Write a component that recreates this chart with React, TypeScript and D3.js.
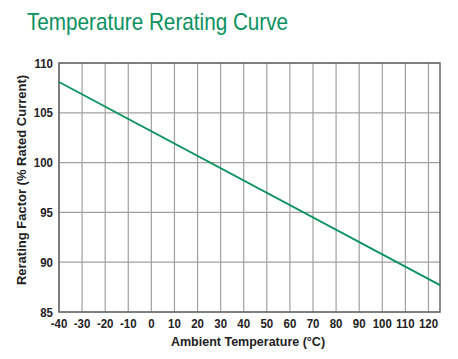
import React from "react";
import * as d3 from "d3";

const xTicks = [-40, -30, -20, -10, 0, 10, 20, 30, 40, 50, 60, 70, 80, 90, 100, 110, 120];
const yTicks = [85, 90, 95, 100, 105, 110];
const curveTemp = [-40, 125];
const curveFactor = [108.1, 87.7];
const title = "Temperature Rerating Curve";
const xTitle = "Ambient Temperature (°C)";
const yTitle = "Rerating Factor (% Rated Current)";

const W = 458, H = 359;
const M = { left: 59, right: 18, top: 63, bottom: 47 };
const green = "#0a9160";
const sans = "'Liberation Sans', Arial, sans-serif";

export default function App() {
  const x = d3.scaleLinear().domain([-40, 125]).range([M.left, W - M.right]);
  const y = d3.scaleLinear().domain([85, 110]).range([H - M.bottom, M.top]);
  const pts = curveTemp.map((t, i) => [t, curveFactor[i]] as [number, number]);
  const line = d3.line<[number, number]>().x(d => x(d[0])).y(d => y(d[1]));
  return (
    <svg width={W} height={H} style={{ position: "absolute", left: 0, top: 0, background: "#fff" }}>
      <text transform="translate(27,30) scale(0.9,1)" fill={green} fontFamily={sans} fontSize={23}>{title}</text>
      {xTicks.map(t => (
        <line key={"gx" + t} x1={x(t)} x2={x(t)} y1={y(110)} y2={y(85)} stroke="#a0a0a0" strokeWidth={1.2} />
      ))}
      {yTicks.map(t => (
        <line key={"gy" + t} x1={x(-40)} x2={x(125)} y1={y(t)} y2={y(t)} stroke="#a0a0a0" strokeWidth={1.2} />
      ))}
      <rect x={x(-40)} y={y(110)} width={x(125) - x(-40)} height={y(85) - y(110)} fill="none" stroke="#666" strokeWidth={1.5} />
      <path d={line(pts) || ""} fill="none" stroke={green} strokeWidth={1.8} />
      {yTicks.map(t => (
        <text key={"yl" + t} transform={`translate(53,${y(t) + 4.5}) scale(0.85,1)`} textAnchor="end" fontFamily={sans} fontWeight="bold" fontSize={13.5} fill="#222">{t}</text>
      ))}
      {xTicks.map(t => (
        <text key={"xl" + t} transform={`translate(${x(t)},328) scale(0.85,1)`} textAnchor="middle" fontFamily={sans} fontWeight="bold" fontSize={13.5} fill="#222">{t}</text>
      ))}
      <text x={248} y={346} textAnchor="middle" fontFamily={sans} fontWeight="bold" fontSize={12.5} fill="#222">{xTitle}</text>
      <text transform={`translate(26,180) rotate(-90)`} textAnchor="middle" fontFamily={sans} fontWeight="bold" fontSize={13} fill="#222">{yTitle}</text>
    </svg>
  );
}
